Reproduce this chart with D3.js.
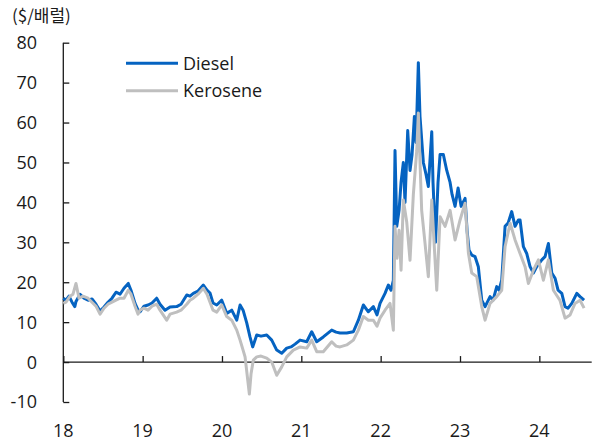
<!DOCTYPE html>
<html>
<head>
<meta charset="utf-8">
<script src="https://cdn.jsdelivr.net/npm/d3@7/dist/d3.min.js"></script>
<style>
  html, body { margin: 0; padding: 0; background: #fff; }
  svg text { font-family: "Open Sans", "Noto Sans", sans-serif; fill: #1a1a1a; }
</style>
</head>
<body>
<svg id="chart" width="596" height="441"></svg>
<script>
// ---- data (decimal year, $/barrel) ----
const dieselTime = [2018.000,2018.034,2018.072,2018.110,2018.145,2018.160,2018.211,2018.261,2018.312,2018.362,2018.412,2018.463,2018.513,2018.563,2018.614,2018.664,2018.715,2018.765,2018.819,2018.853,2018.904,2018.942,2018.967,2019.017,2019.068,2019.118,2019.177,2019.219,2019.282,2019.345,2019.429,2019.484,2019.556,2019.597,2019.639,2019.698,2019.765,2019.811,2019.849,2019.887,2019.934,2019.997,2020.060,2020.123,2020.186,2020.228,2020.266,2020.312,2020.353,2020.387,2020.438,2020.492,2020.564,2020.627,2020.690,2020.753,2020.816,2020.870,2020.921,2020.984,2021.068,2021.131,2021.194,2021.277,2021.383,2021.438,2021.488,2021.572,2021.656,2021.719,2021.782,2021.845,2021.908,2021.954,2021.992,2022.055,2022.097,2022.131,2022.160,2022.181,2022.203,2022.232,2022.257,2022.286,2022.307,2022.341,2022.370,2022.396,2022.425,2022.446,2022.475,2022.496,2022.538,2022.572,2022.601,2022.644,2022.660,2022.692,2022.723,2022.749,2022.790,2022.833,2022.875,2022.900,2022.938,2022.976,2023.014,2023.064,2023.089,2023.114,2023.148,2023.190,2023.231,2023.274,2023.316,2023.379,2023.417,2023.463,2023.492,2023.526,2023.568,2023.606,2023.652,2023.694,2023.736,2023.757,2023.799,2023.841,2023.883,2023.925,2023.967,2024.031,2024.072,2024.114,2024.157,2024.198,2024.236,2024.283,2024.324,2024.362,2024.409,2024.472,2024.513,2024.564];
const dieselValue = [16.0,15.5,16.5,15.0,13.9,15.2,17.0,16.0,15.5,15.8,14.5,12.8,13.8,15.0,16.0,17.5,17.0,18.5,19.7,18.0,14.7,13.0,12.6,14.0,14.3,14.8,16.0,14.5,13.0,13.8,13.9,14.5,16.8,16.5,17.2,17.8,19.3,18.0,17.3,14.8,14.3,15.5,12.2,13.0,10.5,14.3,13.0,9.8,6.3,3.8,6.8,6.5,6.8,5.5,3.0,2.2,3.5,3.8,4.5,5.5,5.1,7.6,5.1,6.3,8.0,7.5,7.3,7.3,7.6,10.5,14.3,12.6,13.9,11.8,14.7,17.2,19.3,18.0,20.5,53.0,34.0,38.0,45.0,50.0,40.0,58.0,48.0,52.0,61.5,55.0,75.0,61.5,50.0,47.0,44.0,57.7,45.0,30.0,45.0,52.0,52.0,48.0,45.0,42.0,39.0,43.6,39.0,41.0,33.0,28.0,26.8,26.4,23.9,15.5,13.9,16.4,15.5,18.9,18.0,20.5,34.0,34.8,37.7,34.0,35.6,35.6,28.9,27.2,23.9,22.3,23.9,25.6,26.4,29.7,22.3,21.0,18.0,17.2,13.9,13.5,14.7,17.2,16.4,15.5];

const keroseneTime = [2018.000,2018.034,2018.084,2018.122,2018.160,2018.198,2018.248,2018.312,2018.362,2018.412,2018.463,2018.513,2018.563,2018.614,2018.664,2018.715,2018.765,2018.819,2018.853,2018.904,2018.942,2018.967,2019.017,2019.068,2019.118,2019.177,2019.219,2019.303,2019.345,2019.429,2019.484,2019.556,2019.597,2019.639,2019.698,2019.765,2019.811,2019.849,2019.887,2019.934,2019.997,2020.060,2020.123,2020.186,2020.228,2020.266,2020.291,2020.345,2020.366,2020.395,2020.438,2020.492,2020.564,2020.627,2020.690,2020.753,2020.816,2020.899,2020.984,2021.068,2021.131,2021.194,2021.277,2021.383,2021.438,2021.488,2021.572,2021.656,2021.719,2021.782,2021.845,2021.908,2021.954,2021.992,2022.055,2022.118,2022.160,2022.181,2022.206,2022.232,2022.257,2022.286,2022.329,2022.370,2022.412,2022.455,2022.475,2022.517,2022.559,2022.601,2022.644,2022.673,2022.707,2022.749,2022.812,2022.875,2022.938,2023.001,2023.064,2023.106,2023.148,2023.211,2023.274,2023.316,2023.379,2023.463,2023.526,2023.568,2023.632,2023.694,2023.757,2023.820,2023.862,2023.925,2023.988,2024.051,2024.114,2024.177,2024.259,2024.324,2024.387,2024.450,2024.513,2024.564];
const keroseneValue = [14.7,15.0,16.5,17.0,19.7,16.0,16.5,16.0,15.0,14.0,12.0,13.5,14.5,15.0,15.5,16.0,16.0,18.0,17.0,14.0,12.0,13.0,13.5,13.0,14.0,14.5,13.0,10.5,12.0,12.5,13.0,14.5,15.5,16.0,17.0,18.5,17.0,15.0,13.0,12.5,14.3,11.4,10.5,8.0,5.5,3.0,1.3,-8.0,-3.0,0.5,1.3,1.5,1.0,0.0,-3.3,-1.2,1.3,3.0,3.8,3.5,5.5,2.6,2.6,5.1,4.0,3.8,4.3,5.5,8.0,11.4,10.5,10.5,9.0,11.0,13.0,14.7,8.0,34.0,26.0,33.0,23.0,40.6,35.0,25.5,42.0,53.0,62.4,38.0,29.8,21.4,40.6,30.0,18.0,36.4,34.0,38.0,30.6,35.6,39.8,27.3,22.3,21.4,13.9,10.5,14.7,16.4,18.0,28.9,34.8,30.6,27.2,23.9,19.7,23.0,25.6,20.5,25.6,18.0,15.5,11.0,11.8,14.7,15.5,13.5];

const yTicks = [-10, 0, 10, 20, 30, 40, 50, 60, 70, 80];
const xTicks = [2018, 2019, 2020, 2021, 2022, 2023, 2024];
const xTickLabels = ["18", "19", "20", "21", "22", "23", "24"];
const seriesNames = ["Diesel", "Kerosene"];
const seriesColors = ["#0563C1", "#BFBFBF"];
const unitLabel = "($/배럴)";

// ---- layout ----
const svg = d3.select("#chart");
const x = d3.scaleLinear().domain([2018, 2024.66]).range([63.3, 591.7]);
const y = d3.scaleLinear().domain([-10, 80]).range([402, 42.7]);

// unit label
svg.append("text")
  .attr("x", 12).attr("y", 22)
  .style("font-family", "'Noto Sans CJK KR', 'Open Sans', sans-serif")
  .style("font-size", "17px")
  .text(unitLabel);

// y axis
const yAxis = d3.axisRight(y).tickValues(yTicks).tickSize(6).tickFormat("");
const gy = svg.append("g").attr("transform", `translate(${x.range()[0]},0)`).call(yAxis);
gy.select(".domain").attr("stroke", "#1a1a1a").attr("stroke-width", 1.3).attr("d", `M0,${y(80)}V${y(-10)}`);
gy.selectAll(".tick line").attr("stroke", "#1a1a1a").attr("stroke-width", 1.3);
svg.append("g").selectAll("text").data(yTicks).join("text")
  .attr("x", 37).attr("y", d => y(d))
  .attr("dy", "0.36em")
  .attr("text-anchor", "end")
  .style("font-size", "18px")
  .text(d => d);

// x axis at y = 0
const xAxis = d3.axisTop(x).tickValues(xTicks).tickSize(6).tickFormat("");
const gx = svg.append("g").attr("transform", `translate(0,${y(0)})`).call(xAxis);
gx.select(".domain").attr("stroke", "#1a1a1a").attr("stroke-width", 1.3).attr("d", `M${x.range()[0]},0H${x.range()[1]}`);
gx.selectAll(".tick line").attr("stroke", "#1a1a1a").attr("stroke-width", 1.3);
svg.append("g").selectAll("text").data(xTicks).join("text")
  .attr("x", d => x(d)).attr("y", 437)
  .attr("text-anchor", "middle")
  .style("font-size", "18px")
  .text((d, i) => xTickLabels[i]);

// lines
const line = d3.line().x(d => x(d[0])).y(d => y(d[1]));
const dieselData = dieselTime.map((t, i) => [t, dieselValue[i]]);
const keroseneData = keroseneTime.map((t, i) => [t, keroseneValue[i]]);

svg.append("path").datum(dieselData)
  .attr("fill", "none").attr("stroke", seriesColors[0]).attr("stroke-width", 3)
  .attr("stroke-linejoin", "round").attr("d", line);
svg.append("path").datum(keroseneData)
  .attr("fill", "none").attr("stroke", seriesColors[1]).attr("stroke-width", 3)
  .attr("stroke-linejoin", "round").attr("d", line);

// legend
const legend = svg.append("g");
seriesNames.forEach((name, i) => {
  const ly = 63.3 + i * 27.4;
  legend.append("line").attr("x1", 126).attr("x2", 178).attr("y1", ly).attr("y2", ly)
    .attr("stroke", seriesColors[i]).attr("stroke-width", 3);
  legend.append("text").attr("x", 183).attr("y", ly).attr("dy", "0.36em")
    .style("font-size", "18px").text(name);
});
</script>
</body>
</html>
